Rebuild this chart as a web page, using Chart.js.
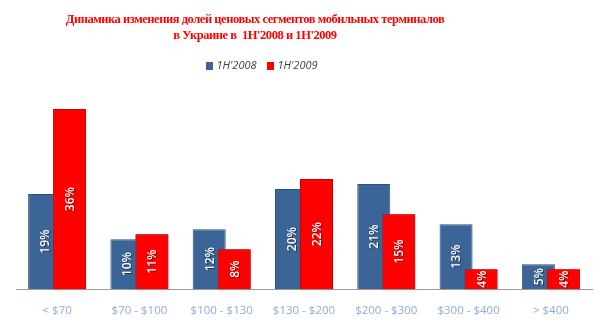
<!DOCTYPE html>
<html>
<head>
<meta charset="utf-8">
<script src="https://cdn.jsdelivr.net/npm/chart.js@4"></script>
<style>
  html, body { margin: 0; padding: 0; background: #fff; }
  #wrap { position: relative; width: 608px; height: 335px; }
  #title {
    position: absolute; left: 0; top: 11px; width: 510px;
    text-align: center; color: #f00;
    font: bold 12.5px "Liberation Serif", "Times New Roman", serif;
    line-height: 16px; letter-spacing: -0.45px;
  }
  #legend {
    position: absolute; left: 0; top: 57px; width: 524px;
    text-align: center; color: #404040;
    font: italic 11px "Open Sans", "DejaVu Sans", sans-serif;
  }
  #legend span.box {
    display: inline-block; width: 7px; height: 8px; margin-right: 3px;
    vertical-align: -1px;
  }
  #legend span.item { margin: 0 4px; }
</style>
</head>
<body>
<div id="wrap">
  <div id="title">Динамика изменения долей ценовых сегментов мобильных терминалов<br>в Украине в&nbsp; 1H'2008 и 1H'2009</div>
  <div id="legend">
    <span class="item"><span class="box" style="background:#3C6597"></span>1H'2008</span>
    <span class="item"><span class="box" style="background:#f00"></span>1H'2009</span>
  </div>
  <canvas id="c" width="608" height="335"></canvas>
</div>
<script>
const categories = ["< $70", "$70 - $100", "$100 - $130", "$130 - $200", "$200 - $300", "$300 - $400", "> $400"];
const seriesNames = ["1H'2008", "1H'2009"];
const values2008 = [19, 10, 12, 20, 21, 13, 5];
const values2009 = [36, 11, 8, 22, 15, 4, 4];

const COLORS = {
  blue: "#3C6597",
  blueEdge: "#2E4F78",
  red: "#FF0000",
  redEdge: "#C80000",
  axis: "#9A9A9A",
  tick: "#8EAADB",
};

// Excel overlaps the bars so the 2009 one sits on top; Chart.js draws the
// first dataset last, so redraw the red one afterwards
const redOnTop = {
  id: "redOnTop",
  afterDatasetsDraw(chart) {
    const meta = chart.getDatasetMeta(1);
    meta.controller.draw();
  },
};

// white rotated value labels in the middle of each bar
const barLabels = {
  id: "barLabels",
  afterDatasetsDraw(chart) {
    const ctx = chart.ctx;
    ctx.save();
    ctx.fillStyle = "#fff";
    ctx.font = "600 12px 'Open Sans', 'DejaVu Sans', sans-serif";
    ctx.textAlign = "center";
    ctx.textBaseline = "middle";
    ctx.shadowColor = "rgba(0,0,0,0.45)";
    ctx.shadowOffsetX = 1;
    ctx.shadowOffsetY = 1;
    chart.data.datasets.forEach((ds, di) => {
      chart.getDatasetMeta(di).data.forEach((bar, i) => {
        const mid = (bar.y + bar.base) / 2;
        ctx.save();
        ctx.translate(bar.x + 1, mid);
        ctx.rotate(-Math.PI / 2);
        ctx.fillText(ds.data[i] + "%", 0, 0);
        ctx.restore();
      });
    });
    ctx.restore();
  },
};

new Chart(document.getElementById("c"), {
  type: "bar",
  data: {
    labels: categories,
    datasets: [
      {
        label: seriesNames[0],
        data: values2008,
        backgroundColor: COLORS.blue,
        borderColor: COLORS.blueEdge,
        borderWidth: 1,
        categoryPercentage: 0.608,
        barPercentage: 1.32,
      },
      {
        label: seriesNames[1],
        data: values2009,
        backgroundColor: COLORS.red,
        borderColor: COLORS.redEdge,
        borderWidth: 1,
        categoryPercentage: 0.608,
        barPercentage: 1.32,
      },
    ],
  },
  options: {
    responsive: false,
    animation: false,
    events: [],
    layout: { padding: { top: 89, left: 16, right: 16, bottom: 10 } },
    plugins: { legend: { display: false }, title: { display: false }, tooltip: { enabled: false } },
    scales: {
      x: {
        grid: { display: false },
        border: { color: COLORS.axis, width: 1 },
        ticks: {
          color: COLORS.tick,
          padding: 7,
          maxRotation: 0,
          font: { family: "'Open Sans', 'DejaVu Sans', sans-serif", size: 11.5 },
        },
      },
      y: { display: false, min: 0, max: 40 },
    },
  },
  plugins: [redOnTop, barLabels],
});
</script>
</body>
</html>
